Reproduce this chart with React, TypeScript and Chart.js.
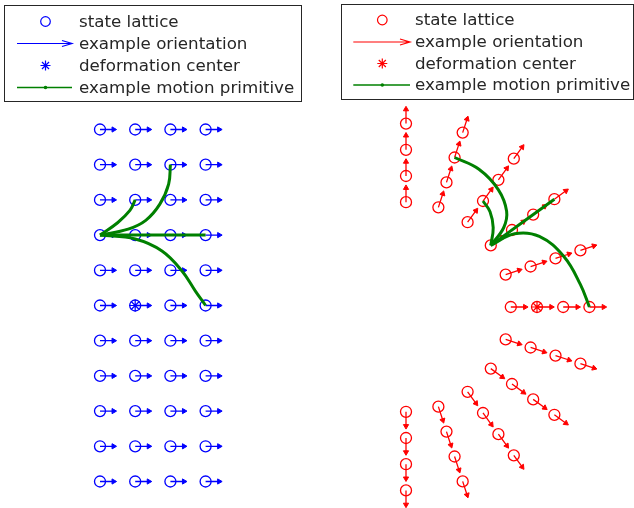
import React, { useEffect, useRef } from "react";
import { Chart, registerables } from "chart.js";

Chart.register(...registerables);

// ---------- data ----------
const LATTICE_X = [-1, 0, 1, 2];
const LATTICE_Y = [5, 4, 3, 2, 1, 0, -1, -2, -3, -4, -5];
const DEFORM_CENTER = { x: 0, y: 0 };
const BEND_RADIUS = 5; // lattice units from bending pivot to deformation center
const BEND_DEG_PER_ROW = 18; // rotation per lattice row in deformed lattice
const ARROW_LEN_LEFT = 0.47;
const ARROW_LEN_RIGHT = 0.66;

const PRIM_1 = [[-1, 2], [-0.5, 2.35], [-0.15, 2.7], [0, 3]];
const PRIM_2 = [[-1, 2], [-0.2, 2.17], [0.3, 2.42], [0.7, 2.88], [0.95, 3.45], [1, 4]];
const PRIM_3 = [[-1, 2], [2, 2]];
const PRIM_4 = [[-1, 2], [0, 1.89], [0.76, 1.55], [1.33, 0.98], [1.71, 0.41], [2, 0]];
const PRIMITIVES = [PRIM_1, PRIM_2, PRIM_3, PRIM_4];

const LEGEND_LABELS = ["state lattice", "example orientation", "deformation center", "example motion primitive"];

// ---------- layout ----------
const W = 317;
const H = 508;
const GREEN = "#008000";
const TEXT = "#262626";

type Pt = { x: number; y: number };

function deform(x: number, y: number): Pt {
  const r = BEND_RADIUS + x;
  const t = (y * BEND_DEG_PER_ROW * Math.PI) / 180;
  return { x: r * Math.cos(t) - BEND_RADIUS, y: r * Math.sin(t) };
}

const PANELS: any = {
  left: {
    color: "#0000ff",
    origin: [135.2, 305.5],
    unit: 35.2,
    arrow: ARROW_LEN_LEFT,
    legend: { box: [4, 5, 297, 96], ys: [21.5, 43.5, 65.5, 87.5], markX: 45.5, lineX0: 17, lineX1: 72, textX: 79 },
  },
  right: {
    color: "#ff0000",
    origin: [220, 307],
    unit: 26.2,
    arrow: ARROW_LEN_RIGHT,
    legend: { box: [24, 4, 292, 95], ys: [20, 42, 63.5, 85], markX: 65.3, lineX0: 36.3, lineX1: 93, textX: 98 },
  },
};

function drawLegend(ctx: CanvasRenderingContext2D, L: any, color: string) {
  const [bx, by, bw, bh] = L.box;
  ctx.save();
  ctx.fillStyle = "#ffffff";
  ctx.fillRect(bx, by, bw, bh);
  ctx.strokeStyle = TEXT;
  ctx.lineWidth = 1;
  ctx.strokeRect(bx + 0.5, by + 0.5, bw, bh);

  ctx.font = '16.7px "DejaVu Sans"';
  ctx.textBaseline = "middle";
  ctx.textAlign = "left";
  ctx.fillStyle = TEXT;
  LEGEND_LABELS.forEach((t, i) => ctx.fillText(t, L.textX, L.ys[i] + 1));

  // circle
  ctx.strokeStyle = color;
  ctx.lineWidth = 1.2;
  ctx.beginPath();
  ctx.arc(L.markX, L.ys[0], 4.8, 0, Math.PI * 2);
  ctx.stroke();
  // arrow
  const y1 = L.ys[1];
  ctx.beginPath();
  ctx.moveTo(L.lineX0, y1);
  ctx.lineTo(L.lineX1, y1);
  ctx.moveTo(L.lineX1 - 10, y1 - 3);
  ctx.lineTo(L.lineX1, y1);
  ctx.lineTo(L.lineX1 - 10, y1 + 3);
  ctx.stroke();
  // asterisk
  const y2 = L.ys[2];
  const r = 5;
  ctx.beginPath();
  for (let k = 0; k < 4; k++) {
    const a = (k * Math.PI) / 4;
    ctx.moveTo(L.markX - r * Math.cos(a), y2 - r * Math.sin(a));
    ctx.lineTo(L.markX + r * Math.cos(a), y2 + r * Math.sin(a));
  }
  ctx.stroke();
  // green line with dot
  const y3 = L.ys[3];
  ctx.strokeStyle = GREEN;
  ctx.lineWidth = 1.5;
  ctx.beginPath();
  ctx.moveTo(L.lineX0, y3);
  ctx.lineTo(L.lineX1, y3);
  ctx.stroke();
  ctx.fillStyle = GREEN;
  ctx.beginPath();
  ctx.arc(L.markX, y3, 1.8, 0, Math.PI * 2);
  ctx.fill();
  ctx.restore();
}

function buildConfig(side: "left" | "right"): any {
  const P = PANELS[side];
  const isRight = side === "right";
  const map = (x: number, y: number): Pt => (isRight ? deform(x, y) : { x, y });
  const heading = (_x: number, y: number) => (isRight ? (y * BEND_DEG_PER_ROW * Math.PI) / 180 : 0);
  const headPx = 3;
  const hd = headPx / P.unit;

  const circles: Pt[] = [];
  const shafts: any[] = [];
  const heads: Pt[] = [];
  const rots: number[] = [];
  for (const y of LATTICE_Y) {
    for (const x of LATTICE_X) {
      const p = map(x, y);
      const h = heading(x, y);
      const c = Math.cos(h);
      const s = Math.sin(h);
      circles.push(p);
      const tip = { x: p.x + P.arrow * c, y: p.y + P.arrow * s };
      const hc = { x: tip.x - hd * c, y: tip.y - hd * s };
      shafts.push(p, hc, { x: hc.x, y: null });
      heads.push(hc);
      rots.push(90 - (h * 180) / Math.PI);
    }
  }
  const center = map(DEFORM_CENTER.x, DEFORM_CENTER.y);

  const prims = PRIMITIVES.map((pr) => ({
    data: pr.map(([x, y]) => map(x, y)),
    showLine: true,
    borderColor: GREEN,
    borderWidth: 3,
    pointRadius: 0,
    tension: 0.4,
    fill: false,
    order: 0,
  }));

  const [ox, oy] = P.origin;
  const u = P.unit;

  return {
    type: "scatter",
    data: {
      datasets: [
        ...prims,
        {
          data: [center],
          pointStyle: "star",
          pointRadius: 6,
          borderWidth: 1.2,
          borderColor: P.color,
          backgroundColor: P.color,
          order: 1,
        },
        {
          data: heads,
          pointStyle: "triangle",
          pointRadius: headPx,
          rotation: rots,
          borderWidth: 1,
          borderColor: P.color,
          backgroundColor: P.color,
          order: 2,
        },
        {
          data: shafts,
          showLine: true,
          spanGaps: false,
          borderColor: P.color,
          borderWidth: 1.3,
          pointRadius: 0,
          order: 3,
        },
        {
          data: circles,
          pointStyle: "circle",
          pointRadius: 5.5,
          borderWidth: 1.3,
          borderColor: P.color,
          backgroundColor: "rgba(0,0,0,0)",
          order: 4,
        },
      ],
    },
    options: {
      animation: false,
      responsive: false,
      events: [],
      layout: { padding: 0, autoPadding: false },
      scales: {
        x: { type: "linear", display: false, min: -ox / u, max: (W - ox) / u },
        y: { type: "linear", display: false, min: (oy - H) / u, max: oy / u },
      },
      plugins: {
        legend: { display: false },
        tooltip: { enabled: false },
      },
    },
    plugins: [
      {
        id: "boxLegend_" + side,
        afterDraw(chart: any) {
          drawLegend(chart.ctx, P.legend, P.color);
        },
      },
    ],
  };
}

export default function App() {
  const leftRef = useRef<HTMLCanvasElement>(null);
  const rightRef = useRef<HTMLCanvasElement>(null);
  useEffect(() => {
    const c1 = new Chart(leftRef.current as HTMLCanvasElement, buildConfig("left"));
    const c2 = new Chart(rightRef.current as HTMLCanvasElement, buildConfig("right"));
    return () => {
      c1.destroy();
      c2.destroy();
    };
  }, []);
  return (
    <div style={{ position: "absolute", left: 0, top: 0, width: 634, height: 508, background: "#ffffff" }}>
      <canvas ref={leftRef} width={W} height={H} style={{ position: "absolute", left: 0, top: 0 }} />
      <canvas ref={rightRef} width={W} height={H} style={{ position: "absolute", left: 317, top: 0 }} />
    </div>
  );
}
